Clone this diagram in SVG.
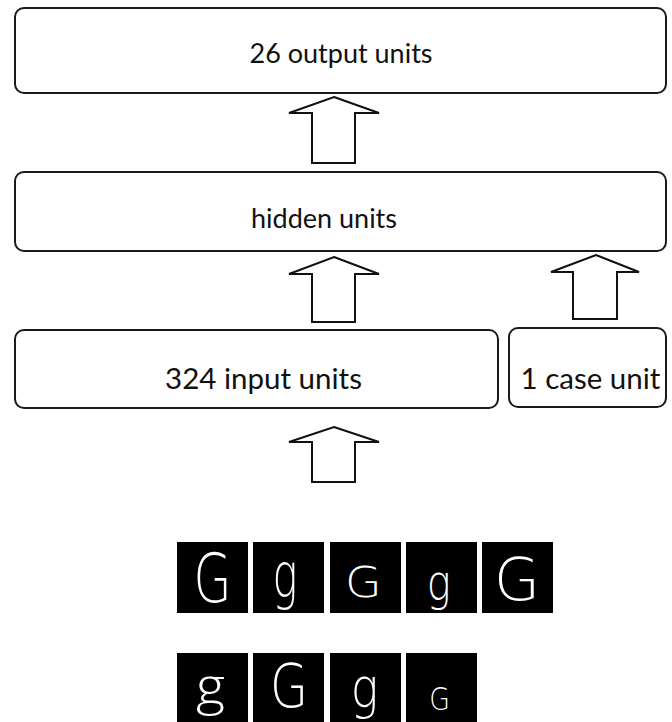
<svg xmlns="http://www.w3.org/2000/svg" width="672" height="722" viewBox="0 0 672 722">
<style>
.box{fill:#fff;stroke:#1a1a1a;stroke-width:2}
.lbl{font-family:Lato,"Open Sans",sans-serif;font-size:27px;fill:#111;text-anchor:middle}
.big{font-size:29.5px}
.arr{fill:#fff;stroke:#111;stroke-width:2;stroke-linejoin:miter}
.sq{fill:#000}
.gl{font-family:"DejaVu Sans",sans-serif;font-weight:200;fill:#fff;text-anchor:middle}
.gs{font-family:"Open Sans",sans-serif;font-weight:300;fill:#fff;text-anchor:middle}
</style>
<rect width="672" height="722" fill="#fff"/>
<g id="output"><rect class="box" x="15" y="8" width="651" height="85" rx="9"/><text class="lbl" x="341" y="63">26 output units</text></g>
<g id="hidden"><rect class="box" x="15" y="172" width="651" height="79" rx="9"/><text class="lbl" x="324" y="228">hidden units</text></g>
<g id="input"><rect class="box" x="15" y="330" width="483" height="78" rx="9"/><text class="lbl big" x="263.5" y="389">324 input units</text></g>
<g id="case"><rect class="box" x="509" y="328" width="157" height="79" rx="9"/><text class="lbl big" x="590.5" y="389">1 case unit</text></g>
<g id="connectors">
<polygon class="arr" points="334,97 379,113 355,113 355,163 312,163 312,113 289,113"/>
<polygon class="arr" points="334,257 379,274 355,274 355,322 312,322 312,274 289,274"/>
<polygon class="arr" points="596,255 639,272 617,272 617,319 573,319 573,272 551,272"/>
<polygon class="arr" points="334,427 379,442 355,442 355,482 312,482 312,442 289,442"/>
</g>
<g id="images">
<rect class="sq" x="177" y="542" width="71" height="71"/>
<rect class="sq" x="253" y="542" width="71" height="71"/>
<rect class="sq" x="330" y="542" width="71" height="71"/>
<rect class="sq" x="406" y="542" width="71" height="71"/>
<rect class="sq" x="482" y="542" width="71" height="71"/>
<text class="gl" x="212.5" y="602" font-size="67" textLength="38" lengthAdjust="spacingAndGlyphs">G</text>
<text class="gl" x="285" y="597" font-size="62" textLength="25" lengthAdjust="spacingAndGlyphs">g</text>
<text class="gl" x="363.3" y="596.7" font-size="43.5" textLength="36.7" lengthAdjust="spacingAndGlyphs">G</text>
<text class="gl" x="438.7" y="600" font-size="49" textLength="24" lengthAdjust="spacingAndGlyphs">g</text>
<text class="gl" x="517" y="600" font-size="59" textLength="46" lengthAdjust="spacingAndGlyphs">G</text>
<rect class="sq" x="177" y="653" width="71" height="71"/>
<rect class="sq" x="253" y="653" width="71" height="71"/>
<rect class="sq" x="330" y="653" width="71" height="71"/>
<rect class="sq" x="406" y="653" width="71" height="71"/>
<text class="gs" x="210.5" y="704" font-size="50" textLength="29" lengthAdjust="spacingAndGlyphs">g</text>
<text class="gl" x="289" y="707" font-size="60" textLength="38" lengthAdjust="spacingAndGlyphs">G</text>
<text class="gl" x="364.5" y="707" font-size="55" textLength="27.6" lengthAdjust="spacingAndGlyphs">g</text>
<text class="gl" x="439.7" y="710" font-size="32" textLength="20.7" lengthAdjust="spacingAndGlyphs">G</text>
</g>
</svg>
